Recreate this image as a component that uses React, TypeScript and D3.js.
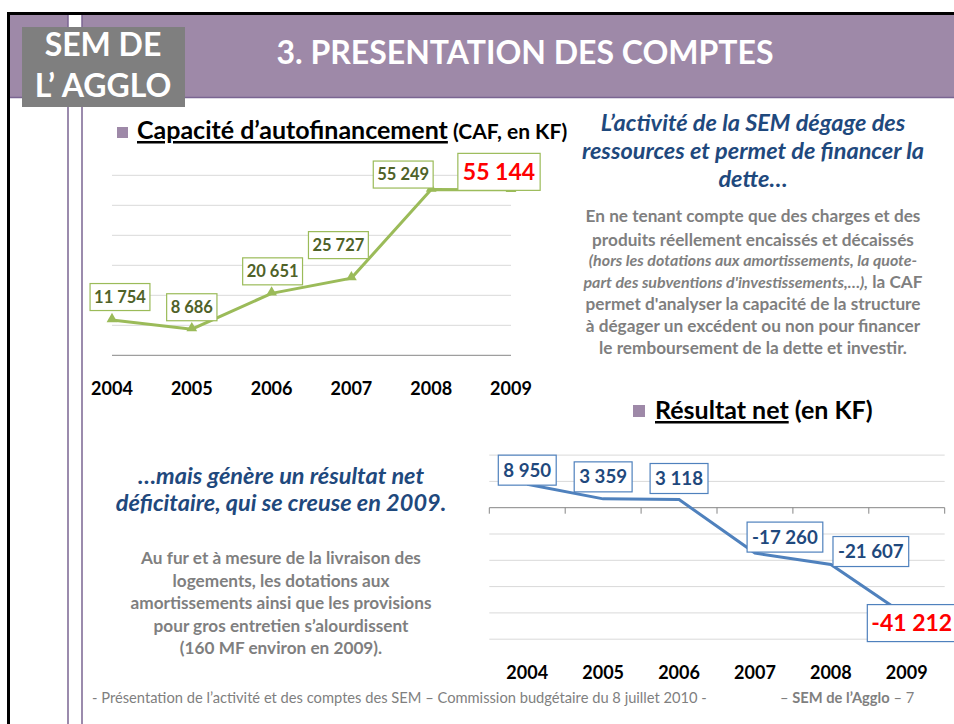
import React, { useEffect, useRef } from 'react';
import * as d3 from 'd3';

const years = ['2004', '2005', '2006', '2007', '2008', '2009'];
const cafValues = [11754, 8686, 20651, 25727, 55249, 55144];
const cafTicks = [0, 10000, 20000, 30000, 40000, 50000, 60000];
const resultValues = [8950, 3359, 3118, -17260, -21607, -41212];
const resultTicks = [-50000, -40000, -30000, -20000, -10000, 0, 10000, 20000];

// hand placed label boxes: centre offset from the point
const cafLabelDx = [8, 0, 1, -13, -28, -12];
const cafLabelDy = [-23, -22, -22, -33, -15, -18];
const resultLabelDx = [0, 0, 0, 30, 40, 5];
const resultLabelDy = [-14, -22, -21, -16, -13, 7];

const cafHeading = ['L’activité de la SEM dégage des', 'ressources et permet de financer la', 'dette…'];
const resultHeading = ['…mais génère un résultat net', 'déficitaire, qui se creuse en 2009.'];
const resultNotes = [
  'Au fur et à mesure de la livraison des',
  'logements, les dotations aux',
  'amortissements ainsi que les provisions',
  'pour gros entretien s’alourdissent',
  '(160 MF environ en 2009).',
];

const FONT = 'Lato, "Open Sans", sans-serif';
const PURPLE = '#9e89a8';
const PURPLE_LINE = '#7a6592';
const GREEN = '#9bbb59';
const GREEN_TEXT = '#4f6228';
const BLUE = '#4f81bd';
const NAVY = '#1f497d';
const GREY_TEXT = '#7f7f7f';
const GRID = '#d9d9d9';
const AXIS = '#868686';

const fr = d3.formatLocale({ decimal: ',', thousands: ' ', grouping: [3], currency: ['', ''], minus: '-' });
const fmt = fr.format(',d');

const drawLabel = (g, cx, cy, text, o) => {
  const grp = g.append('g');
  const t = grp.append('text')
    .attr('x', cx)
    .attr('y', cy + o.size * 0.35)
    .attr('text-anchor', 'middle')
    .attr('font-family', FONT)
    .attr('font-weight', 700)
    .attr('font-size', o.size)
    .attr('fill', o.color)
    .text(text);
  const w = t.node().getComputedTextLength();
  grp.insert('rect', 'text')
    .attr('x', cx - w / 2 - o.padX)
    .attr('y', cy - o.h / 2)
    .attr('width', w + o.padX * 2)
    .attr('height', o.h)
    .attr('fill', 'white')
    .attr('stroke', o.stroke)
    .attr('stroke-width', 1.2);
};

const drawSlide = (node) => {
  const svg = d3.select(node);
  svg.selectAll('*').remove();

  // frame + header band
  svg.append('rect').attr('x', 10).attr('y', 15).attr('width', 944).attr('height', 82).attr('fill', PURPLE);
  svg.append('line').attr('x1', 10).attr('x2', 954).attr('y1', 97.5).attr('y2', 97.5)
    .attr('stroke', PURPLE_LINE).attr('stroke-width', 1.5);
  svg.append('line').attr('x1', 7).attr('x2', 954).attr('y1', 13.5).attr('y2', 13.5)
    .attr('stroke', '#000').attr('stroke-width', 3);
  svg.append('line').attr('x1', 8.5).attr('x2', 8.5).attr('y1', 12).attr('y2', 724)
    .attr('stroke', '#000').attr('stroke-width', 3);
  svg.append('rect').attr('x', 68).attr('y', 15).attr('width', 14).attr('height', 12).attr('fill', 'white');
  [68, 82].forEach((x) => {
    svg.append('line').attr('x1', x).attr('x2', x).attr('y1', 15).attr('y2', 724)
      .attr('stroke', PURPLE_LINE).attr('stroke-width', 1.5);
  });
  svg.append('rect').attr('x', 22).attr('y', 27).attr('width', 163).attr('height', 80).attr('fill', '#7f7f7f');
  [['SEM DE', 56], ['L’ AGGLO', 97]].forEach(([s, y]) => {
    svg.append('text').attr('x', 103).attr('y', y).attr('text-anchor', 'middle')
      .attr('font-family', FONT).attr('font-weight', 700).attr('font-size', 32).attr('fill', 'white').text(s);
  });
  svg.append('text').attr('x', 525).attr('y', 64).attr('text-anchor', 'middle')
    .attr('font-family', FONT).attr('font-weight', 700).attr('font-size', 32).attr('fill', 'white')
    .text('3. PRESENTATION DES COMPTES');

  // ---- CAF chart
  const x1 = d3.scalePoint().domain(years).range([112, 511]);
  const y1 = d3.scaleLinear().domain([0, 60000]).range([355.3, 175.3]);
  const top = svg.append('g');

  top.append('rect').attr('x', 117).attr('y', 127).attr('width', 11).attr('height', 11).attr('fill', PURPLE);
  const t1 = top.append('text').attr('x', 137).attr('y', 139).attr('font-family', FONT).attr('font-weight', 700).attr('fill', '#000');
  t1.append('tspan').attr('font-size', 25).style('text-decoration', 'underline').text('Capacité d’autofinancement');
  t1.append('tspan').attr('font-size', 21).text(' (CAF, en KF)');

  top.selectAll('.grid').data(cafTicks.filter((d) => d !== 0)).enter().append('line')
    .attr('x1', 112).attr('x2', 511).attr('y1', (d) => y1(d)).attr('y2', (d) => y1(d))
    .attr('stroke', GRID).attr('stroke-width', 1);
  top.append('line').attr('x1', 112).attr('x2', 511).attr('y1', y1(0)).attr('y2', y1(0))
    .attr('stroke', AXIS).attr('stroke-width', 1);

  const line1 = d3.line().x((d, i) => x1(years[i])).y((d) => y1(d));
  top.append('path').attr('d', line1(cafValues)).attr('fill', 'none').attr('stroke', GREEN).attr('stroke-width', 3);
  top.selectAll('.marker').data(cafValues).enter().append('path')
    .attr('d', d3.symbol(d3.symbolTriangle, 50))
    .attr('transform', (d, i) => `translate(${x1(years[i])},${y1(d) - 1})`)
    .attr('fill', GREEN);

  top.selectAll('.year').data(years).enter().append('text')
    .attr('x', (d) => x1(d)).attr('y', 395).attr('text-anchor', 'middle')
    .attr('font-family', FONT).attr('font-weight', 700).attr('font-size', 18).attr('fill', '#000')
    .text((d) => d);

  cafValues.forEach((v, i) => {
    const last = i === cafValues.length - 1;
    drawLabel(top, x1(years[i]) + cafLabelDx[i], y1(v) + cafLabelDy[i], fmt(v), {
      size: last ? 23 : 16.5, color: last ? '#ff0000' : GREEN_TEXT, stroke: GREEN, h: last ? 37 : 27, padX: last ? 5 : 4,
    });
  });

  // ---- right text block
  cafHeading.forEach((s, i) => {
    svg.append('text').attr('x', 753).attr('y', 131 + i * 28).attr('text-anchor', 'middle')
      .attr('font-family', FONT).attr('font-weight', 700).attr('font-style', 'italic').attr('font-size', 23.5)
      .attr('fill', NAVY).text(s);
  });
  const body = [
    [{ s: 'En ne tenant compte que des charges et des' }],
    [{ s: 'produits réellement encaissés et décaissés' }],
    [{ s: '(hors les dotations aux amortissements, la quote-', it: true }],
    [{ s: 'part des subventions d\'investissements,…),', it: true }, { s: ' la CAF' }],
    [{ s: 'permet d\'analyser la capacité de la structure' }],
    [{ s: 'à dégager un excédent ou non pour financer' }],
    [{ s: 'le remboursement de la dette et investir.' }],
  ];
  const bodyY = [222, 246, 266, 288, 310, 332, 354];
  body.forEach((parts, i) => {
    const t = svg.append('text').attr('x', 753).attr('y', bodyY[i]).attr('text-anchor', 'middle')
      .attr('font-family', FONT).attr('font-weight', 700).attr('fill', GREY_TEXT);
    parts.forEach((p) => {
      t.append('tspan').attr('font-size', p.it ? 16 : 17.2).attr('font-style', p.it ? 'italic' : 'normal').text(p.s);
    });
  });

  // ---- left bottom text block
  resultHeading.forEach((s, i) => {
    svg.append('text').attr('x', 281).attr('y', 484 + i * 27).attr('text-anchor', 'middle')
      .attr('font-family', FONT).attr('font-weight', 700).attr('font-style', 'italic').attr('font-size', 23.5)
      .attr('fill', NAVY).text(s);
  });
  resultNotes.forEach((s, i) => {
    svg.append('text').attr('x', 281).attr('y', 564 + i * 22.5).attr('text-anchor', 'middle')
      .attr('font-family', FONT).attr('font-weight', 700).attr('font-size', 17.2)
      .attr('fill', GREY_TEXT).text(s);
  });

  // ---- Résultat net chart
  const x2 = d3.scaleBand().domain(years).range([489.3, 944.7]);
  const y2 = d3.scaleLinear().domain([-50000, 20000]).range([639.2, 455.1]);
  const cx2 = (d) => x2(d) + x2.bandwidth() / 2;
  const bot = svg.append('g');

  bot.append('rect').attr('x', 633).attr('y', 405).attr('width', 12).attr('height', 12).attr('fill', PURPLE);
  const t2 = bot.append('text').attr('x', 655).attr('y', 419).attr('font-family', FONT).attr('font-weight', 700)
    .attr('font-size', 25).attr('fill', '#000');
  t2.append('tspan').style('text-decoration', 'underline').text('Résultat net');
  t2.append('tspan').text(' (en KF)');

  bot.selectAll('.grid').data(resultTicks.filter((d) => d !== 0)).enter().append('line')
    .attr('x1', 489.3).attr('x2', 944.7).attr('y1', (d) => y2(d)).attr('y2', (d) => y2(d))
    .attr('stroke', GRID).attr('stroke-width', 1);
  bot.append('line').attr('x1', 489.3).attr('x2', 944.7).attr('y1', y2(0)).attr('y2', y2(0))
    .attr('stroke', AXIS).attr('stroke-width', 1);
  const bounds = years.map((d) => x2(d)).concat([x2(years[years.length - 1]) + x2.bandwidth()]);
  bot.selectAll('.tick').data(bounds).enter().append('line')
    .attr('x1', (d) => d).attr('x2', (d) => d).attr('y1', y2(0)).attr('y2', y2(0) + 6)
    .attr('stroke', AXIS).attr('stroke-width', 1);

  const line2 = d3.line().x((d, i) => cx2(years[i])).y((d) => y2(d));
  bot.append('path').attr('d', line2(resultValues)).attr('fill', 'none').attr('stroke', BLUE).attr('stroke-width', 3);

  bot.selectAll('.year').data(years).enter().append('text')
    .attr('x', (d) => cx2(d)).attr('y', 679).attr('text-anchor', 'middle')
    .attr('font-family', FONT).attr('font-weight', 700).attr('font-size', 18).attr('fill', '#000')
    .text((d) => d);

  resultValues.forEach((v, i) => {
    const last = i === resultValues.length - 1;
    drawLabel(bot, cx2(years[i]) + resultLabelDx[i], y2(v) + resultLabelDy[i], fmt(v), {
      size: last ? 23 : 18.7, color: last ? '#ff0000' : NAVY, stroke: BLUE, h: last ? 37 : 30, padX: last ? 4 : 5,
    });
  });

  // ---- footer
  const f = svg.append('text').attr('y', 703).attr('font-family', FONT).attr('font-size', 14.7).attr('fill', GREY_TEXT);
  f.append('tspan').attr('x', 92).text('- Présentation de l’activité et des comptes des SEM – Commission budgétaire du 8 juillet 2010 -');
  const f2 = svg.append('text').attr('x', 780).attr('y', 703).attr('font-family', FONT).attr('font-size', 14.7).attr('fill', GREY_TEXT);
  f2.append('tspan').text('–  ');
  f2.append('tspan').attr('font-weight', 700).text('SEM de l’Agglo');
  f2.append('tspan').text('  –   7');
};

export default function App() {
  const ref = useRef(null);
  useEffect(() => {
    drawSlide(ref.current);
  }, []);
  return (
    <div style={{ position: 'absolute', left: 0, top: 0 }}>
      <svg ref={ref} width={954} height={724} style={{ display: 'block', background: '#fff' }} />
    </div>
  );
}
